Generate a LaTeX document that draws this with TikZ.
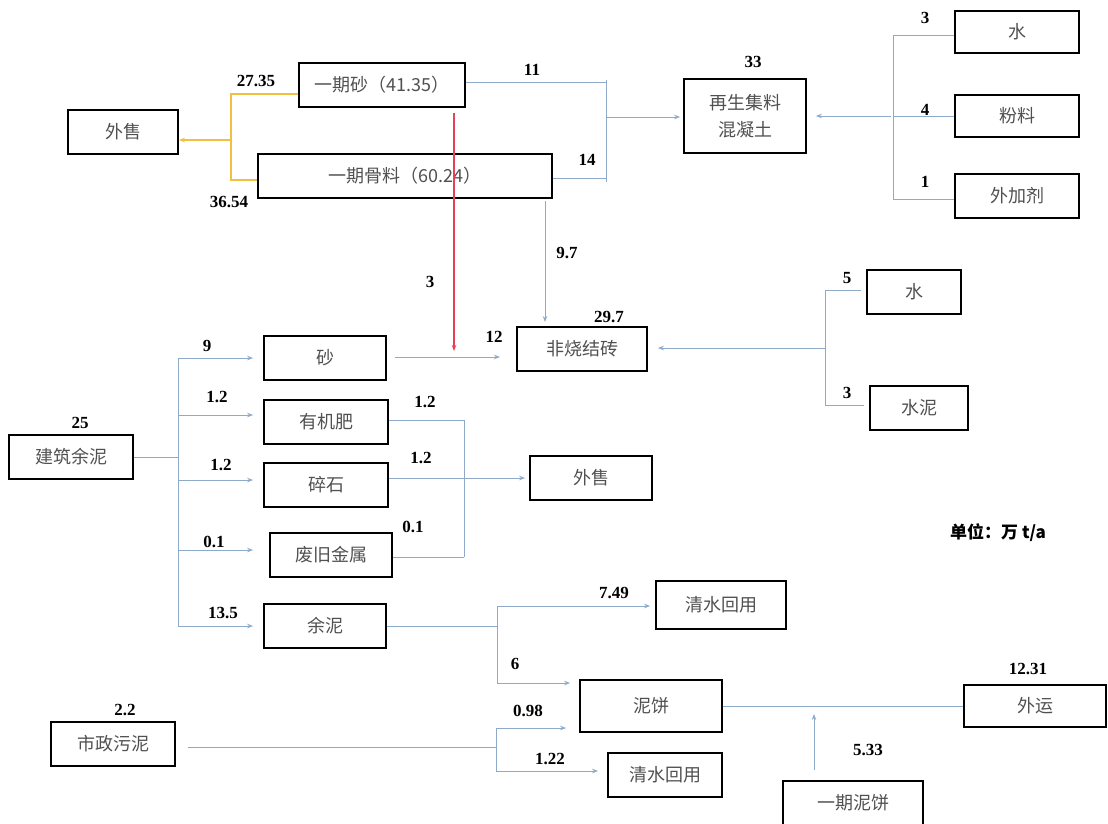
\documentclass[tikz,border=0pt]{standalone}
\usepackage{fontspec}
\setmainfont{Liberation Serif}
\newfontfamily\cjk{Noto Sans CJK SC}
\usepackage{xcolor}
\usetikzlibrary{arrows.meta, calc, positioning}
\definecolor{flowblue}{HTML}{8DAAC8}
\definecolor{salered}{HTML}{E6405A}
\definecolor{saleyellow}{HTML}{F2C040}
\definecolor{boxtext}{HTML}{505050}

\begin{document}
\begin{tikzpicture}[x=1pt, y=-1pt,
    box/.style={draw, line width=1.8pt, inner sep=0pt, align=center, text=boxtext,
      font=\cjk\fontsize{18}{27}\selectfont},
    boxsize/.style 2 args={minimum width=#1pt, minimum height=#2pt},
    num/.style={inner sep=0pt, font=\bfseries\fontsize{17}{20}\selectfont},
    link/.style={flowblue, line width=1pt},
    flow/.style={link, -{Stealth[length=6pt, width=4.5pt]}},
    yellowlink/.style={saleyellow, line width=1.2pt},
    yellowflow/.style={yellowlink, -{Stealth[length=6pt, width=4.5pt]}},
    redflow/.style={salered, line width=1.4pt, -{Stealth[length=6pt, width=4.5pt]}}]
  \useasboundingbox (0,0) rectangle (1108,823);

  \node[box, boxsize={110}{44}] (sale1) at (123,132) {外售};
  \node[box, boxsize={166}{44}] (sand1) at (382,85) {一期砂（41.35）};
  \node[box, boxsize={294}{44}] (agg1) at (405,176) {一期骨料（60.24）};
  \node[box, boxsize={122}{74}] (rc) at (745,116) {再生集料\\混凝土};
  \node[box, boxsize={124}{42}] (water1) at (1017,32) {水};
  \node[box, boxsize={124}{42}] (powder) at (1017,116) {粉料};
  \node[box, boxsize={124}{44}] (admix) at (1017,196) {外加剂};

  \node[box, boxsize={130}{44}] (brick) at (582,349) {非烧结砖};
  \node[box, boxsize={122}{44}] (sand2) at (325,358) {砂};
  \node[box, boxsize={94}{44}] (water2) at (914,292) {水};
  \node[box, boxsize={98}{44}] (cement) at (919,408) {水泥};

  \node[box, boxsize={124}{44}] (csoil) at (71,457) {建筑余泥};
  \node[box, boxsize={124}{44}] (fert) at (326,422) {有机肥};
  \node[box, boxsize={124}{44}] (gravel) at (326,485) {碎石};
  \node[box, boxsize={122}{44}] (metal) at (331,555) {废旧金属};
  \node[box, boxsize={122}{44}] (mud) at (325,626) {余泥};
  \node[box, boxsize={122}{44}] (sale2) at (591,478) {外售};
  \node[box, boxsize={130}{48}] (reuse1) at (721,605) {清水回用};
  \node[box, boxsize={142}{52}] (cake) at (651,706) {泥饼};
  \node[box, boxsize={114}{44}] (reuse2) at (665,775) {清水回用};
  \node[box, boxsize={124}{44}] (sludge) at (113,744) {市政污泥};
  \node[box, boxsize={142}{42}] (haul) at (1035,706) {外运};
  \node[box, boxsize={140}{44}] (cake1) at (853,803) {一期泥饼};

  \coordinate (ysplit) at (231,140);
  \draw[yellowlink] ([yshift=-9pt]sand1.west) -| (ysplit) |- ([yshift=-4pt]agg1.west);
  \draw[yellowflow] (ysplit) -- (sale1.east |- ysplit);

  \coordinate (rcTop) at (606,80);
  \coordinate (rcBot) at (606,182);
  \coordinate (jrc) at (606,117);
  \draw[link] (rcTop) -- (rcBot);
  \draw[link] ([yshift=3pt]sand1.east) -- ([yshift=3pt]sand1.east -| rcTop);
  \draw[link] ([yshift=-2pt]agg1.east) -- ([yshift=-2pt]agg1.east -| rcTop);
  \draw[flow] (jrc) -- ([xshift=-3pt]rc.west |- jrc);

  \coordinate (mixTop) at (893,35);
  \coordinate (mixMid) at (893,116);
  \coordinate (mixBot) at (893,199);
  \draw[link] (mixTop) -- (mixBot);
  \draw[link] (mixTop) -- (water1.west |- mixTop);
  \draw[link] (mixMid) -- (powder.west |- mixMid);
  \draw[link] (mixBot) -- (admix.west |- mixBot);
  \draw[flow] ([xshift=-2pt]mixMid) -- ([xshift=9pt]rc.east |- mixMid);

  \coordinate (redEnd) at (454,351);
  \draw[redflow] ([yshift=-5pt]redEnd |- sand1.south) -- (redEnd);
  \coordinate (brickIn) at (545,322);
  \draw[flow] ([yshift=-2pt]brickIn |- agg1.south) -- (brickIn);
  \coordinate (brickW) at (500,357);
  \draw[flow] ([xshift=8pt]sand2.east |- brickW) -- (brickW);

  \coordinate (binTop) at (825,290);
  \coordinate (binMid) at (825,348);
  \coordinate (binBot) at (825,405);
  \draw[link] (binTop) -- (binBot);
  \draw[link] (binTop) -- ([xshift=-5pt]water2.west |- binTop);
  \draw[link] (binBot) -- ([xshift=-5pt]cement.west |- binBot);
  \draw[flow] (binMid) -- ([xshift=10pt]brick.east |- binMid);

  \coordinate (splitTop) at (178,358);
  \coordinate (splitBot) at (178,626);
  \draw[link] (csoil.east) -- (csoil.east -| splitTop);
  \draw[link] (splitTop) -- (splitBot);
  \foreach \n/\dy/\gap in {sand2/0/10, fert/7/10, gravel/5/10, metal/5/16, mud/0/10}
    \draw[flow] ([yshift=\dy pt]\n.west -| splitTop) -- ([xshift=-\gap pt, yshift=\dy pt]\n.west);

  \coordinate (saleTop) at (464,420);
  \coordinate (saleMid) at (464,478);
  \coordinate (saleBot) at (464,557);
  \draw[link] (saleTop) -- (saleBot);
  \draw[link] ([yshift=2pt]fert.east) -- (saleTop);
  \draw[link] (gravel.east |- saleMid) -- (saleMid);
  \draw[link] ([yshift=-2pt]metal.east) -- (saleBot);
  \draw[flow] (saleMid) -- ([xshift=-4pt]sale2.west);

  \coordinate (mudTop) at (497,606);
  \coordinate (mudBot) at (497,683);
  \draw[link] (mud.east) -- (mud.east -| mudTop);
  \draw[link] (mudTop) -- (mudBot);
  \draw[flow] (mudTop) -- ([xshift=-5pt]reuse1.west |- mudTop);
  \draw[flow] (mudBot) -- ([xshift=-9pt]cake.west |- mudBot);

  \coordinate (sluTop) at (496,728);
  \coordinate (sluBot) at (496,771);
  \draw[link] ([xshift=12pt, yshift=-3pt]sludge.east) -- ([yshift=-3pt]sludge.east -| sluTop);
  \draw[link] (sluTop) -- (sluBot);
  \draw[flow] (sluTop) -- ([xshift=-13pt]cake.west |- sluTop);
  \draw[flow] (sluBot) -- ([xshift=-9pt]reuse2.west |- sluBot);

  \draw[link] (cake.east) -- (haul.west);
  \coordinate (haulIn) at (814,714);
  \draw[flow] ([yshift=10pt]cake1.north -| haulIn) -- (haulIn);

  \node[num] (n2735) at (256,81) {27.35};
  \node[num] (n3654) at (229,202) {36.54};
  \node[num] (n11) at (532,70) {11};
  \node[num] (n14) at (587,160) {14};
  \node[num] (n33) at (753,62) {33};
  \node[num] (nwater1) at (925,18) {3};
  \node[num] (npowder) at (925,110) {4};
  \node[num] (nadmix) at (925,182) {1};
  \node[num] (nred) at (430,282) {3};
  \node[num] (n97) at (567,253) {9.7};
  \node[num] (n297) at (609,317) {29.7};
  \node[num] (n12) at (494,337) {12};
  \node[num] (nwater2) at (847,278) {5};
  \node[num] (ncement) at (847,393) {3};
  \node[num] (n25) at (80,423) {25};
  \node[num] (nsand2) at (207,346) {9};
  \node[num] (nfert) at (217,397) {1.2};
  \node[num] (ngravel) at (221,465) {1.2};
  \node[num] (nmetal) at (214,542) {0.1};
  \node[num] (nmud) at (223,613) {13.5};
  \node[num] (nfertout) at (425,402) {1.2};
  \node[num] (ngravelout) at (421,458) {1.2};
  \node[num] (nmetalout) at (413,527) {0.1};
  \node[num] (n749) at (614,593) {7.49};
  \node[num] (n6) at (515,664) {6};
  \node[num] (n22) at (125,710) {2.2};
  \node[num] (n098) at (528,711) {0.98};
  \node[num] (n122) at (550,759) {1.22};
  \node[num] (n533) at (868,750) {5.33};
  \node[num] (n1231) at (1028,669) {12.31};
  \node[num, font=\cjk\bfseries\fontsize{17}{20}\selectfont] (unit) at (998,533) {单位：万 t/a};
\end{tikzpicture}
\end{document}
